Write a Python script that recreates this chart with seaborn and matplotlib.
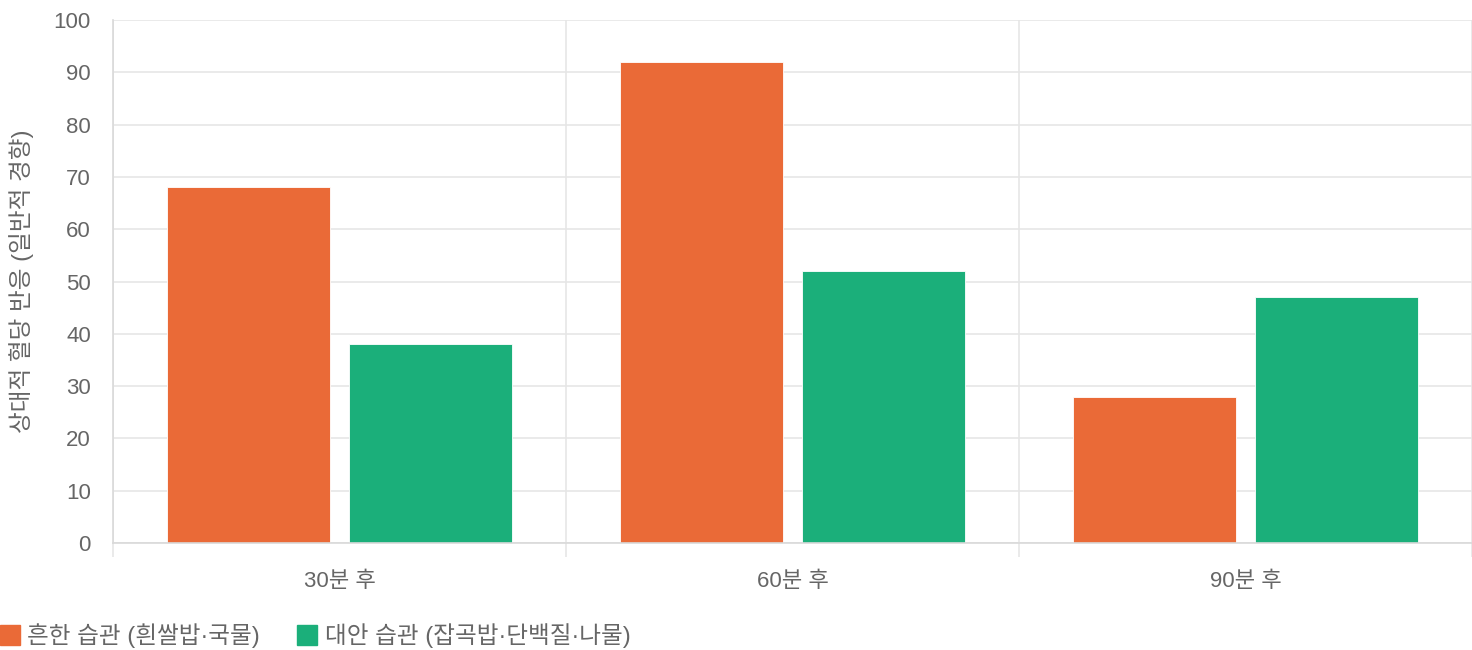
import numpy as np
import pandas as pd
import matplotlib
matplotlib.use("Agg")
import matplotlib.pyplot as plt
from matplotlib.lines import Line2D
import seaborn as sns

categories = ["30분 후", "60분 후", "90분 후"]
series_names = ["흔한 습관 (흰쌀밥·국물)", "대안 습관 (잡곡밥·단백질·나물)"]
common_values = [68, 92, 28]
alt_values = [38, 52, 47]
colors = ["#EA6A37", "#1BAF7A"]
y_label = "상대적 혈당 반응 (일반적 경향)"

df = pd.DataFrame({
    "time": categories * 2,
    "habit": [series_names[0]] * 3 + [series_names[1]] * 3,
    "value": common_values + alt_values,
})

sns.set_theme(style="white")
plt.rcParams["font.family"] = ["Liberation Sans", "Noto Sans CJK KR"]
text_color = "#666666"
grid_color = "#e6e6e6"

fig = plt.figure(figsize=(14.72, 6.5), dpi=100)
ax = fig.add_axes([113 / 1472, 1 - 543 / 650, 1 - 113 / 1472, (543 - 20) / 650])

sns.barplot(data=df, x="time", y="value", hue="habit", palette=colors,
            width=0.8, gap=0.1, ax=ax, legend=False, saturation=1,
            edgecolor="white", linewidth=0.6)

ax.set_ylim(0, 100)
ax.set_xlim(-0.5, 2.5)
ax.set_yticks(np.arange(0, 101, 10))
ax.set_xticks(np.arange(3))
ax.set_xticklabels(categories)
ax.set_xticks([-0.5, 0.5, 1.5, 2.5], minor=True)

ax.grid(axis="y", color=grid_color, linewidth=1.2)
ax.grid(axis="x", which="minor", color=grid_color, linewidth=1.2)
ax.set_axisbelow(True)

for s in ["top", "right"]:
    ax.spines[s].set_visible(False)
for s in ["left", "bottom"]:
    ax.spines[s].set_color("#d9d9d9")
    ax.spines[s].set_linewidth(1.2)

ax.tick_params(axis="y", which="major", length=13, color=grid_color, width=1.2,
               labelsize=16, labelcolor=text_color, pad=3)
ax.tick_params(axis="x", which="major", length=0, labelsize=16,
               labelcolor=text_color, pad=20)
ax.tick_params(axis="x", which="minor", length=10, color=grid_color, width=1.2,
               bottom=True)

ax.set_xlabel("")
ax.set_ylabel(y_label, fontsize=17, color=text_color)
ax.yaxis.set_label_coords(-0.058, 0.5)

handles = [Line2D([0], [0], marker="s", linestyle="", markersize=15,
                  markerfacecolor=c, markeredgecolor=c) for c in colors]
fig.legend(handles, series_names, loc="lower left", bbox_to_anchor=(-0.0015, 0.003),
           borderaxespad=0, borderpad=0, ncol=2, frameon=False, fontsize=17,
           labelcolor=text_color, handletextpad=0.25, columnspacing=1.5,
           handlelength=1.0)

fig.savefig("out.png", dpi=100)
